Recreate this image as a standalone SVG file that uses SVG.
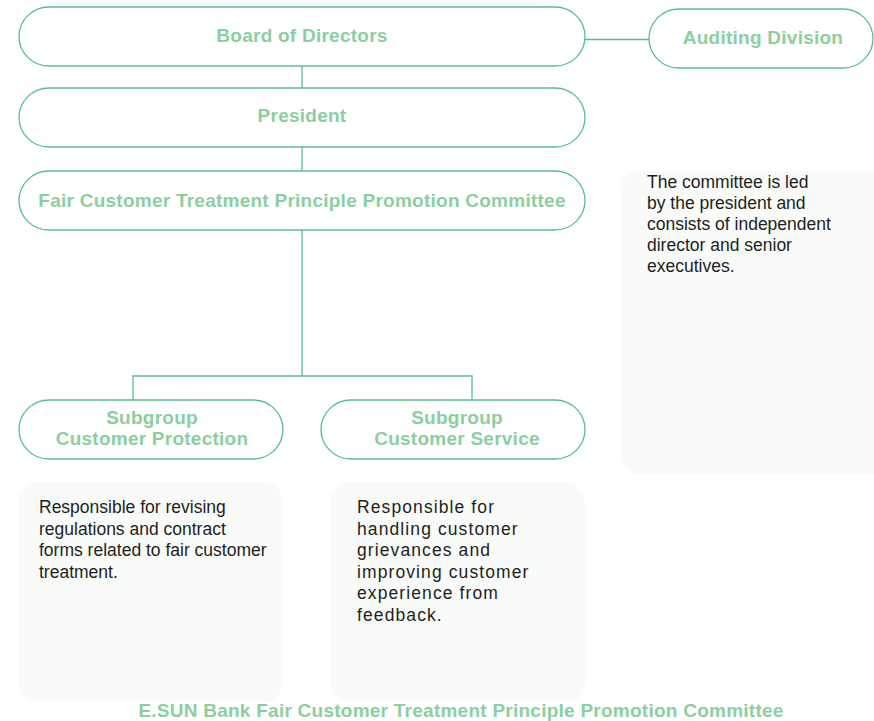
<svg xmlns="http://www.w3.org/2000/svg" width="874" height="721" viewBox="0 0 874 721">
<style>
.pill{fill:#ffffff;stroke:#55bf92;stroke-width:1.3}
.box{fill:#f8fbf8;stroke:none}
.lbl{font-family:"Liberation Sans",Arial,sans-serif;font-weight:bold;font-size:19px;letter-spacing:0.25px;fill:#8ccf9f;text-anchor:middle}
.body{font-family:"Liberation Sans",Arial,sans-serif;font-size:17.5px;fill:#1e1e1e}
.wide{letter-spacing:1.1px}
.conn{stroke:#55bf92;stroke-width:1.3;fill:none}
</style>
<rect width="874" height="721" fill="#ffffff"/>
<g id="connectors">
<line class="conn" x1="585" y1="39.5" x2="649" y2="39.5"/>
<line class="conn" x1="302" y1="66" x2="302" y2="88"/>
<line class="conn" x1="302" y1="147" x2="302" y2="171"/>
<polyline class="conn" points="302,230 302,376"/>
<polyline class="conn" points="133,400 133,376 472,376 472,400"/>
</g>
<g id="board">
<rect class="pill" x="19" y="7" width="566" height="59" rx="30" ry="29.5"/>
<text class="lbl" x="302" y="42">Board of Directors</text>
</g>
<g id="auditing">
<rect class="pill" x="649" y="9" width="224" height="59" rx="30" ry="29.5"/>
<text class="lbl" x="763" y="44">Auditing Division</text>
</g>
<g id="president">
<rect class="pill" x="19" y="88" width="566" height="59" rx="30" ry="29.5"/>
<text class="lbl" x="302" y="122">President</text>
</g>
<g id="committee">
<rect class="pill" x="19" y="171" width="566" height="59" rx="30" ry="29.5"/>
<text class="lbl" x="302" y="207">Fair Customer Treatment Principle Promotion Committee</text>
</g>
<g id="committee-note">
<rect class="box" x="620" y="171" width="274" height="303" rx="20"/>
<text class="body">
<tspan x="647" y="188">The committee is led</tspan>
<tspan x="647" y="209">by the president and</tspan>
<tspan x="647" y="230">consists of independent</tspan>
<tspan x="647" y="251">director and senior</tspan>
<tspan x="647" y="272">executives.</tspan>
</text>
</g>
<g id="protection">
<rect class="pill" x="19" y="400" width="264" height="59" rx="30" ry="29.5"/>
<text class="lbl" x="152" y="424">Subgroup</text>
<text class="lbl" x="152" y="445">Customer Protection</text>
</g>
<g id="service">
<rect class="pill" x="321" y="400" width="264" height="59" rx="30" ry="29.5"/>
<text class="lbl" x="457" y="424">Subgroup</text>
<text class="lbl" x="457" y="445">Customer Service</text>
</g>
<g id="protection-note">
<rect class="box" x="18" y="482" width="265" height="221" rx="20"/>
<text class="body">
<tspan x="39" y="513">Responsible for revising</tspan>
<tspan x="39" y="534.5">regulations and contract</tspan>
<tspan x="39" y="556">forms related to fair customer</tspan>
<tspan x="39" y="577.5">treatment.</tspan>
</text>
</g>
<g id="service-note">
<rect class="box" x="330" y="482" width="255" height="221" rx="20"/>
<text class="body wide">
<tspan x="357" y="513">Responsible for</tspan>
<tspan x="357" y="534.5">handling customer</tspan>
<tspan x="357" y="556">grievances and</tspan>
<tspan x="357" y="577.5">improving customer</tspan>
<tspan x="357" y="599">experience from</tspan>
<tspan x="357" y="620.5">feedback.</tspan>
</text>
</g>
<g id="title">
<text class="lbl" x="461" y="716.5">E.SUN Bank Fair Customer Treatment Principle Promotion Committee</text>
</g>
</svg>
